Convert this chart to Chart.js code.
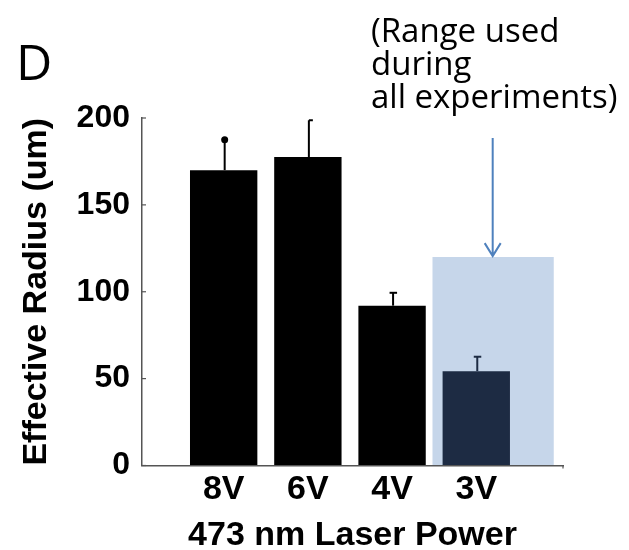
<!DOCTYPE html>
<html>
<head>
<meta charset="utf-8">
<script src="https://cdn.jsdelivr.net/npm/chart.js@4.4.0/dist/chart.umd.min.js"></script>
<style>
  html, body { margin: 0; padding: 0; background: #fff; }
  #wrap { position: relative; width: 629px; height: 550px; }
  #chart { position: absolute; left: 0; top: 0; }
  .note { position: absolute; font-family: "Open Sans", sans-serif; color: #000; white-space: nowrap; }
  #panel { left: 16px; top: 36px; font-size: 50px; line-height: 50px; }
  #range { left: 371px; top: 13px; font-size: 33px; line-height: 33px; }
</style>
</head>
<body>
<div id="wrap">
  <canvas id="chart" width="629" height="550"></canvas>
  <div class="note" id="panel">D</div>
  <div class="note" id="range">(Range used<br>during<br>all experiments)</div>
</div>
<script>
const categories = ["8V", "6V", "4V", "3V"];
const radius = [170, 177.5, 92, 54.3];
const errorTop = [187.5, 198.7, 99.4, 62.6];
const yTicks = [0, 50, 100, 150, 200];
// shaded "range used" box: x from, x to, top value
const rangeBox = [3.48, 4.92, 120];
// arrow: x, start value, tip value
const arrow = [4.195, 188.5, 120.5];

const positions = categories.map((c, i) => i + 1);
const barColors = ["#000000", "#000000", "#000000", "#1d2b43"];
const capStyle = ["dot", "right", "both", "both"];

const extras = {
  id: "extras",
  beforeDraw(chart) {
    const { ctx, scales: { x, y } } = chart;
    ctx.save();
    ctx.fillStyle = "#c6d6ea";
    const x0 = x.getPixelForValue(rangeBox[0]);
    const x1 = x.getPixelForValue(rangeBox[1]);
    const yt = y.getPixelForValue(rangeBox[2]);
    ctx.fillRect(x0, yt, x1 - x0, y.getPixelForValue(0) - yt);
    ctx.restore();
  },
  afterDatasetsDraw(chart) {
    const { ctx, scales: { x, y } } = chart;
    ctx.save();
    // error bars
    radius.forEach((v, i) => {
      const px = x.getPixelForValue(positions[i]) + 1;
      const yb = y.getPixelForValue(v);
      const ye = y.getPixelForValue(errorTop[i]);
      ctx.strokeStyle = barColors[i];
      ctx.fillStyle = barColors[i];
      ctx.lineWidth = 2;
      ctx.beginPath();
      ctx.moveTo(px, yb);
      ctx.lineTo(px, ye);
      ctx.stroke();
      if (capStyle[i] === "dot") {
        ctx.beginPath();
        ctx.arc(px, ye, 3.5, 0, Math.PI * 2);
        ctx.fill();
      } else {
        const l = capStyle[i] === "right" ? 0 : 3.5;
        ctx.beginPath();
        ctx.moveTo(px - l, ye);
        ctx.lineTo(px + 4, ye);
        ctx.stroke();
      }
    });
    // inward ticks on y axis
    ctx.strokeStyle = "#555";
    ctx.lineWidth = 1.2;
    yTicks.forEach(v => {
      const py = y.getPixelForValue(v);
      ctx.beginPath();
      ctx.moveTo(x.left, py);
      ctx.lineTo(x.left + 4, py);
      ctx.stroke();
    });
    ctx.beginPath();
    ctx.moveTo(x.right, y.bottom);
    ctx.lineTo(x.right, y.bottom + 3);
    ctx.stroke();
    // arrow
    const ax = x.getPixelForValue(arrow[0]);
    const a0 = y.getPixelForValue(arrow[1]);
    const a1 = y.getPixelForValue(arrow[2]);
    ctx.strokeStyle = "#4f81bd";
    ctx.lineWidth = 2;
    ctx.beginPath();
    ctx.moveTo(ax, a0);
    ctx.lineTo(ax, a1);
    ctx.moveTo(ax - 8, a1 - 13);
    ctx.lineTo(ax, a1);
    ctx.lineTo(ax + 8, a1 - 13);
    ctx.stroke();
    ctx.restore();
  }
};

new Chart(document.getElementById("chart"), {
  type: "bar",
  data: {
    datasets: [{
      data: radius.map((v, i) => ({ x: positions[i], y: v })),
      backgroundColor: barColors,
      borderWidth: 0,
      categoryPercentage: 0.8,
      barPercentage: 1.0
    }]
  },
  options: {
    responsive: false,
    animation: false,
    events: [],
    layout: { padding: { left: 0, top: 118, right: 66, bottom: 0 } },
    plugins: { legend: { display: false }, tooltip: { enabled: false } },
    scales: {
      x: {
        type: "linear",
        offset: false,
        min: 0.03,
        max: 5.03,
        afterBuildTicks: s => { s.ticks = positions.map(p => ({ value: p })); },
        afterFit: s => { s.height = 84.5; },
        ticks: {
          callback: v => categories[v - 1] || "",
          color: "#000",
          padding: 4,
          maxRotation: 0,
          autoSkip: false,
          font: { family: "Liberation Sans", size: 34, weight: "bold" }
        },
        grid: { display: true, offset: false, drawOnChartArea: false, drawTicks: false },
        border: { color: "#555", width: 1.5 },
        title: {
          display: true,
          text: "473 nm Laser Power",
          color: "#000",
          padding: { top: 0, bottom: -6 },
          font: { family: "Liberation Sans", size: 34, weight: "bold", lineHeight: 1.2 }
        }
      },
      y: {
        min: 0,
        max: 200,
        afterBuildTicks: s => { s.ticks = yTicks.map(v => ({ value: v })); },
        afterFit: s => { s.width = 142; },
        ticks: {
          color: "#000",
          padding: 12,
          font: { family: "Liberation Sans", size: 32, weight: "bold" }
        },
        grid: { display: true, drawOnChartArea: false, drawTicks: false },
        border: { color: "#555", width: 1.5 },
        title: {
          display: true,
          text: "Effective Radius (um)",
          color: "#000",
          padding: { top: 16, bottom: 0 },
          font: { family: "Liberation Sans", size: 34, weight: "bold", lineHeight: 1.2 }
        }
      }
    }
  },
  plugins: [extras]
});
</script>
</body>
</html>
